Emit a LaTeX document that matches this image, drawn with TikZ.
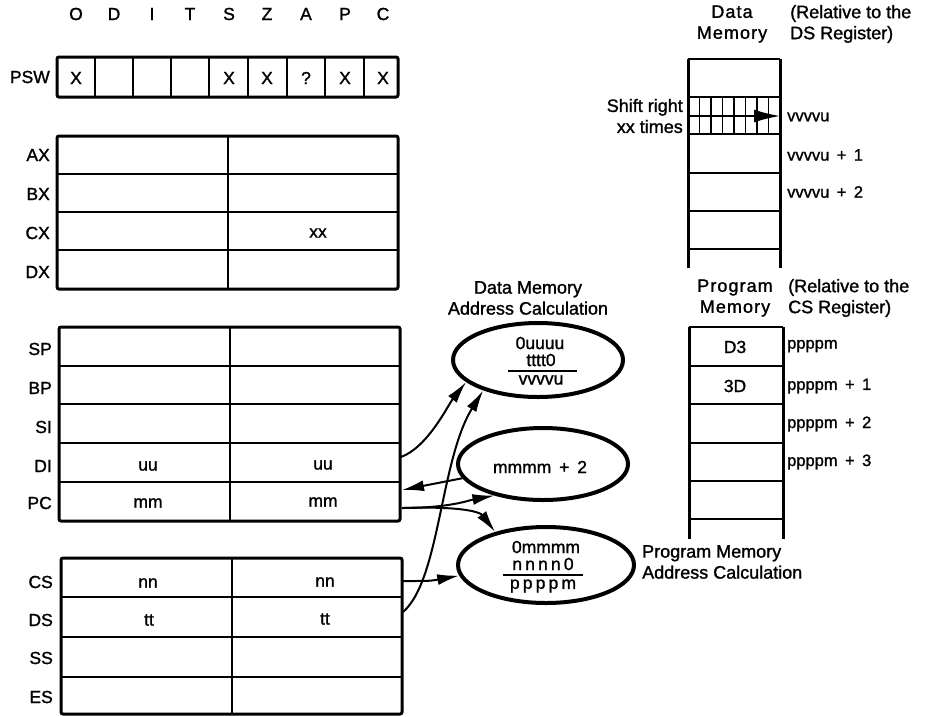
\documentclass[tikz,border=0pt]{standalone}
\usepackage{fontspec}
\setmainfont[FakeBold=1.3]{Liberation Sans}
\newfontfamily\spc[LetterSpace=18,FakeBold=1.3]{Liberation Sans}
\newfontfamily\wide[LetterSpace=6,FakeBold=1.3]{Liberation Sans}
\usetikzlibrary{shapes.geometric,arrows.meta}
\newcommand{\gap}{\hspace{0.45em}}
\begin{document}
\begin{tikzpicture}[x=1pt,y=-1pt,
 outer/.style={line width=3pt,rounded corners=2pt},
 inner/.style={line width=1.8pt},
 txt/.style={inner sep=0pt,font=\fontsize{17.5}{20}\selectfont},
 adr/.style={inner sep=0pt,font=\fontsize{16.5}{20}\selectfont,anchor=west},
 ttl/.style={inner sep=0pt,font=\fontsize{18}{21}\selectfont,align=center},
 ell/.style={ellipse,draw,line width=4pt,inner sep=0pt},
 conn/.style={line width=2pt,-{Latex[length=22pt,width=11pt]}}
]
\useasboundingbox (0,0) rectangle (925,716);

% ---------- PSW ----------
\foreach \l/\x in {O/76,D/114,I/152,T/190,S/229,Z/267,A/306,P/345,C/383}
  \node[txt] (f\l) at (\x,14) {\l};
\node[txt,anchor=east] (psw) at (50,77) {PSW};
\foreach \x in {95,133,171,209,248,287,325,364} \draw[inner] (\x,57) -- (\x,97);
\draw[outer] (57,57) rectangle (398,97);
\foreach \v/\x [count=\i] in {X/76,X/229,X/267,?/306,X/345,X/383}
  \node[txt] (pv\i) at (\x,78) {\v};

% ---------- AX..DX ----------
\foreach \y in {174,212,250} \draw[inner] (57,\y) -- (398,\y);
\draw[inner] (228,136) -- (228,289);
\draw[outer] (57,136) rectangle (398,289);
\foreach \r/\y in {AX/155,BX/194,CX/233,DX/272}
  \node[txt,anchor=east] (l\r) at (50,\y) {\r};
\node[txt] (cxl) at (318,233) {xx};

% ---------- SP..PC ----------
\foreach \y in {366,404,443,482} \draw[inner] (59,\y) -- (400,\y);
\draw[inner] (230,327) -- (230,521);
\draw[outer] (59,327) rectangle (400,521);
\foreach \r/\y in {SP/349,BP/388,SI/427,DI/466,PC/503}
  \node[txt,anchor=east] (l\r) at (52,\y) {\r};
\node[txt] (dia) at (148,466) {uu};
\node[txt] (dib) at (323,465) {uu};
\node[txt] (pca) at (148,503) {mm};
\node[txt] (pcb) at (323,502) {mm};
\coordinate (di) at (401,457);
\coordinate (pcin) at (402,490);
\coordinate (pcout) at (402,508);

% ---------- CS..ES ----------
\foreach \y in {597,637,677} \draw[inner] (61,\y) -- (402,\y);
\draw[inner] (232,558) -- (232,714);
\draw[outer] (61,558) rectangle (402,714);
\foreach \r/\y in {CS/582,DS/620,SS/658,ES/697}
  \node[txt,anchor=east] (l\r) at (53,\y) {\r};
\node[txt] (csa) at (148,583) {nn};
\node[txt] (csb) at (325,582) {nn};
\node[txt] (dsa) at (149,620) {tt};
\node[txt] (dsb) at (325,619) {tt};
\coordinate (cs) at (403,581);
\coordinate (ds) at (403,612);

% ---------- Data memory ----------
\node[ttl,font=\fontsize{18}{21}\wide] (dmt) at (732,24) {Data\\Memory};
\node[ttl,anchor=west,align=left] (dmr) at (790,24) {(Relative to the\\DS Register)};
\foreach \y in {59,97,134,173,211,249} \draw[inner] (688,\y) -- (780,\y);
\foreach \k in {1,...,7} \draw[inner] (688+11.5*\k,97) -- (688+11.5*\k,134);
\draw[line width=3pt] (688,59) -- (688,268);
\draw[line width=3pt] (780,59) -- (780,268);
\coordinate (shs) at (688,116);
\coordinate (she) at (780,116);
\draw[line width=1.8pt,-{Latex[length=26pt,width=13pt]}] (shs) -- (she);
\node[ttl,anchor=east,align=right] (shl) at (683,116) {Shift right\\xx times};
\node[adr] (dv0) at (787,117) {vvvvu};
\node[adr] (dv1) at (787,155) {vvvvu\gap+\gap1};
\node[adr] (dv2) at (787,192) {vvvvu\gap+\gap2};

% ---------- Program memory ----------
\node[ttl,font=\fontsize{18}{21}\wide] (pmt) at (735,298) {Program\\Memory};
\node[ttl,anchor=west,align=left] (pmr) at (788,298) {(Relative to the\\CS Register)};
\foreach \y in {327,366,404,443,481,519} \draw[inner] (689,\y) -- (783,\y);
\draw[line width=3pt] (689,327) -- (689,539);
\draw[line width=3pt] (783,327) -- (783,539);
\node[txt] (d3) at (735,347) {D3};
\node[txt] (d3b) at (735,386) {3D};
\node[adr] (pp0) at (787,346) {ppppm};
\node[adr] (pp1) at (787,386) {ppppm\gap+\gap1};
\node[adr] (pp2) at (787,424) {ppppm\gap+\gap2};
\node[adr] (pp3) at (787,462) {ppppm\gap+\gap3};

% ---------- Ellipses ----------
\node[ttl] (dct) at (528,298) {Data Memory\\Address Calculation};
\node[ell,minimum width=170pt,minimum height=74pt] (dcalc) at (538,360) {};
\node[txt] (e1a) at (540,343) {0uuuu};
\node[txt] (e1b) at (541,360) {tttt0};
\draw[line width=1.5pt] (508,371) -- (577,371);
\node[txt] (e1c) at (541,380) {vvvvu};

\node[ell,minimum width=170pt,minimum height=72pt] (m2) at (543,464) {};
\node[txt] (m2t) at (540,467) {mmmm\gap+\gap2};

\node[ell,minimum width=176pt,minimum height=76pt] (pcalc) at (546,565) {};
\node[txt] (e3a) at (546,547) {0mmmm};
\node[txt] (e3b) at (543,564) {\spc nnnn0};
\draw[line width=1.5pt] (503,575) -- (583,575);
\node[txt] (e3c) at (543,586) {\spc ppppm};
\node[ttl,anchor=west,align=left] (pct) at (642,562) {Program Memory\\Address Calculation};

% ---------- Connectors ----------
\draw[conn] (di) .. controls (428,447) and (448,405) .. (dcalc.197);
\draw[conn] (ds) .. controls (440,580) and (440,460) .. (dcalc.209);
\draw[conn] (m2.190) -- (pcin);
\draw[conn] (pcout) .. controls (450,508) and (470,500) .. (m2.213);
\draw[conn] (pcout) .. controls (462,506) and (480,512) .. (pcalc.147);
\draw[conn] (cs) .. controls (430,581) .. (pcalc.187);
\end{tikzpicture}
\end{document}
